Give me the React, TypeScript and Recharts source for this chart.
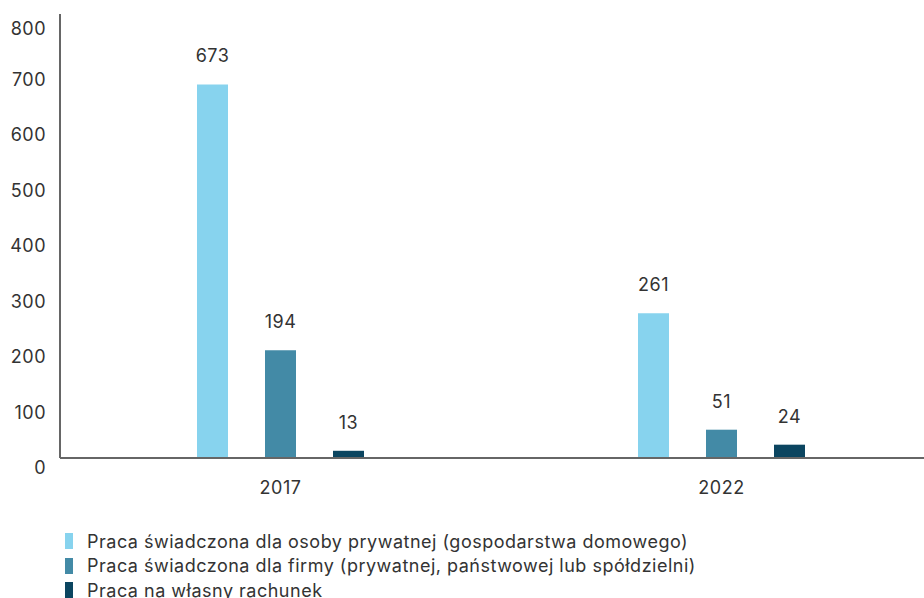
import React from 'react'
import { BarChart, Bar, XAxis, YAxis, LabelList } from 'recharts'

const years = ['2017', '2022']
const prywatna = [673, 261]
const firma = [194, 51]
const wlasny = [13, 24]
const yTicks = [0, 100, 200, 300, 400, 500, 600, 700, 800]

const series = [
  { key: 'prywatna', name: 'Praca świadczona dla osoby prywatnej (gospodarstwa domowego)', color: '#87d3ee' },
  { key: 'firma', name: 'Praca świadczona dla firmy (prywatnej, państwowej lub spółdzielni)', color: '#438aa6' },
  { key: 'wlasny', name: 'Praca na własny rachunek', color: '#0b4560' },
]

const data = years.map((year, i) => ({
  year,
  prywatna: prywatna[i],
  firma: firma[i],
  wlasny: wlasny[i],
}))

const font = 'Inter, "Open Sans", sans-serif'
const textColor = '#333333'
const textStyle = { fontSize: 18, fill: textColor, fontFamily: font, letterSpacing: 0.5 }

export default function App() {
  return (
    <div
      style={{
        position: 'fixed',
        left: 0,
        top: 0,
        width: 924,
        height: 598,
        overflow: 'hidden',
        padding: 8,
        boxSizing: 'border-box',
        fontFamily: font,
        background: '#fff',
      }}
    >
      <BarChart
        width={934}
        height={500}
        data={data}
        margin={{ top: 6, right: 0, left: 0, bottom: 0 }}
        barSize={31}
        barGap={37}
      >
        <XAxis
          dataKey="year"
          height={50}
          tickLine={false}
          tickSize={0}
          tickMargin={23}
          axisLine={{ stroke: '#666', strokeWidth: 2 }}
          tick={textStyle}
        />
        <YAxis
          width={52}
          domain={[0, 800]}
          ticks={yTicks}
          tickLine={false}
          tickSize={0}
          tickMargin={14}
          axisLine={{ stroke: '#666', strokeWidth: 2 }}
          tick={{ ...textStyle, dy: 10 }}
        />
        {series.map((s) => (
          <Bar key={s.key} dataKey={s.key} name={s.name} fill={s.color} isAnimationActive={false}>
            <LabelList dataKey={s.key} position="top" offset={22} style={textStyle} />
          </Bar>
        ))}
      </BarChart>
      <div style={{ paddingTop: 21, paddingLeft: 57 }}>
        {series.map((s) => (
          <div
            key={s.key}
            style={{
              display: 'flex',
              alignItems: 'center',
              height: 24.5,
              fontSize: 18,
              letterSpacing: 0.5,
              color: textColor,
              whiteSpace: 'nowrap',
            }}
          >
            <span style={{ width: 8, height: 16, background: s.color, marginRight: 14, flexShrink: 0 }} />
            <span>{s.name}</span>
          </div>
        ))}
      </div>
    </div>
  )
}
